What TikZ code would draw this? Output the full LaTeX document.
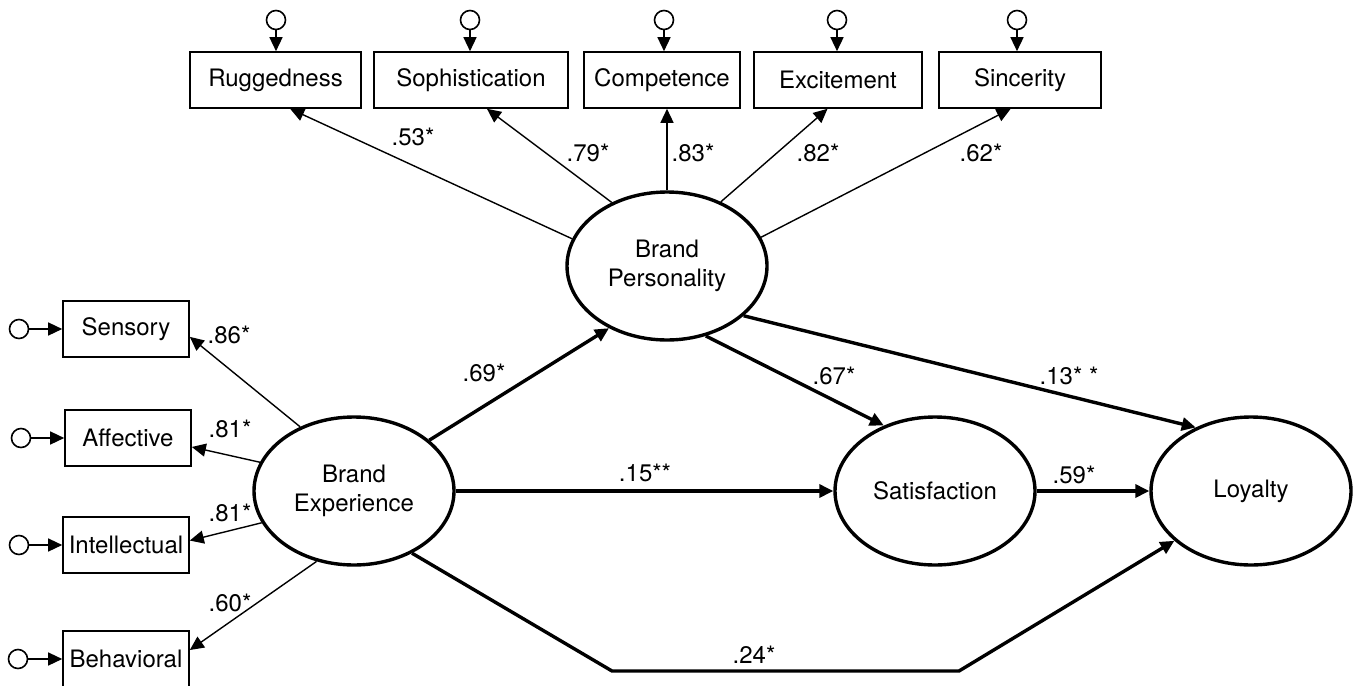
\documentclass[tikz,border=0pt]{standalone}
\usepackage{fontspec}
\setmainfont{TeX Gyre Heros}
\usetikzlibrary{arrows.meta,shapes.geometric}
\tikzset{
  obs/.style={draw,line width=0.8pt,minimum height=28pt,inner sep=1pt},
  lat/.style={draw,ellipse,line width=1.7pt,minimum width=100pt,minimum height=74pt,inner sep=1pt,align=center},
  err/.style={draw,circle,line width=0.8pt,minimum size=9.5pt,inner sep=0pt},
  load/.style={-{Triangle[length=7pt,width=6.5pt]},line width=0.7pt},
  struct/.style={-{Triangle[length=7pt,width=6.5pt]},line width=1.7pt},
}

\begin{document}
\begin{tikzpicture}[x=0.5pt,y=-0.5pt,font=\fontsize{12}{14.5}\selectfont]
  \useasboundingbox (0,0) rectangle (1353,685);
  % Latent variables
  \node[lat] (bp) at (667,266) {Brand\\Personality};
  \node[lat] (be) at (354,491) {Brand\\Experience};
  \node[lat] (sat) at (935,491) {Satisfaction};
  \node[lat] (loy) at (1251,491) {Loyalty};
  % Brand personality indicators
  \node[obs,minimum width=85.5pt] (rug) at (275.5,80) {Ruggedness};
  \node[obs,minimum width=97pt] (soph) at (471,80) {Sophistication};
  \node[obs,minimum width=78pt] (comp) at (662,80) {Competence};
  \node[obs,minimum width=84pt] (exc) at (838,80) {Excitement};
  \node[obs,minimum width=81pt] (sinc) at (1020,80) {Sincerity};
  % Brand experience indicators
  \node[obs,minimum width=63pt] (sens) at (126,329) {Sensory};
  \node[obs,minimum width=63pt] (aff) at (128,438) {Affective};
  \node[obs,minimum width=63pt] (int) at (126,545) {Intellectual};
  \node[obs,minimum width=63pt] (beh) at (126,659) {Behavioral};
  % Error terms
  \foreach \v/\x in {rug/276,soph/470,comp/664,exc/837,sinc/1017} {
    \node[err] (e\v) at (\x,20) {};
    \draw[load] (e\v) -- (e\v |- \v.north);
  }
  \foreach \v/\x in {sens/19,aff/21,int/19,beh/18} {
    \node[err] (e\v) at (\x,0 |- \v) {};
    \draw[load] (e\v) -- (\v);
  }
  % Loadings
  \draw[load] (bp.164) -- (rug.297);
  \draw[load] (bp.131) -- (soph.299);
  \draw[load] (bp.north) -- (bp.north |- comp.south);
  \draw[load] (bp.50) -- (exc.250);
  \draw[load] (bp.17) -- (sinc.252);
  \draw[load] (be.130) -- (sens.353);
  \draw[load] (be.163) -- (aff.352);
  \draw[load] (be.199) -- (int.4);
  \draw[load] (be.242) -- (beh.8);
  % Structural paths
  \coordinate (b1) at (612,671);
  \coordinate (b2) at (959,671);
  \draw[struct] (be.34) -- (bp.227);
  \draw[struct] (bp.299) -- (sat.128);
  \draw[struct] (bp.327) -- (loy.131);
  \draw[struct] (be) -- (sat);
  \draw[struct] (sat) -- (loy);
  \draw[struct] (be.313) -- (b1) -- (b2) -- (loy.213);
  % Coefficients
  \node (c53) at (413,137) {.53*};
  \node (c79) at (588,153) {.79*};
  \node (c83) at (693,153) {.83*};
  \node (c82) at (818,153) {.82*};
  \node (c62) at (981,153) {.62*};
  \node (c86) at (229,335) {.86*};
  \node (c81a) at (230,429) {.81*};
  \node (c81b) at (230,513) {.81*};
  \node (c60) at (230,603) {.60*};
  \node (c69) at (484,373) {.69*};
  \node (c67) at (834,376) {.67*};
  \node (c13) at (1069,376) {.13* *};
  \node (c15) at (645,473) {.15**};
  \node (c59) at (1074,475) {.59*};
  \node (c24) at (754,655) {.24*};
\end{tikzpicture}
\end{document}
